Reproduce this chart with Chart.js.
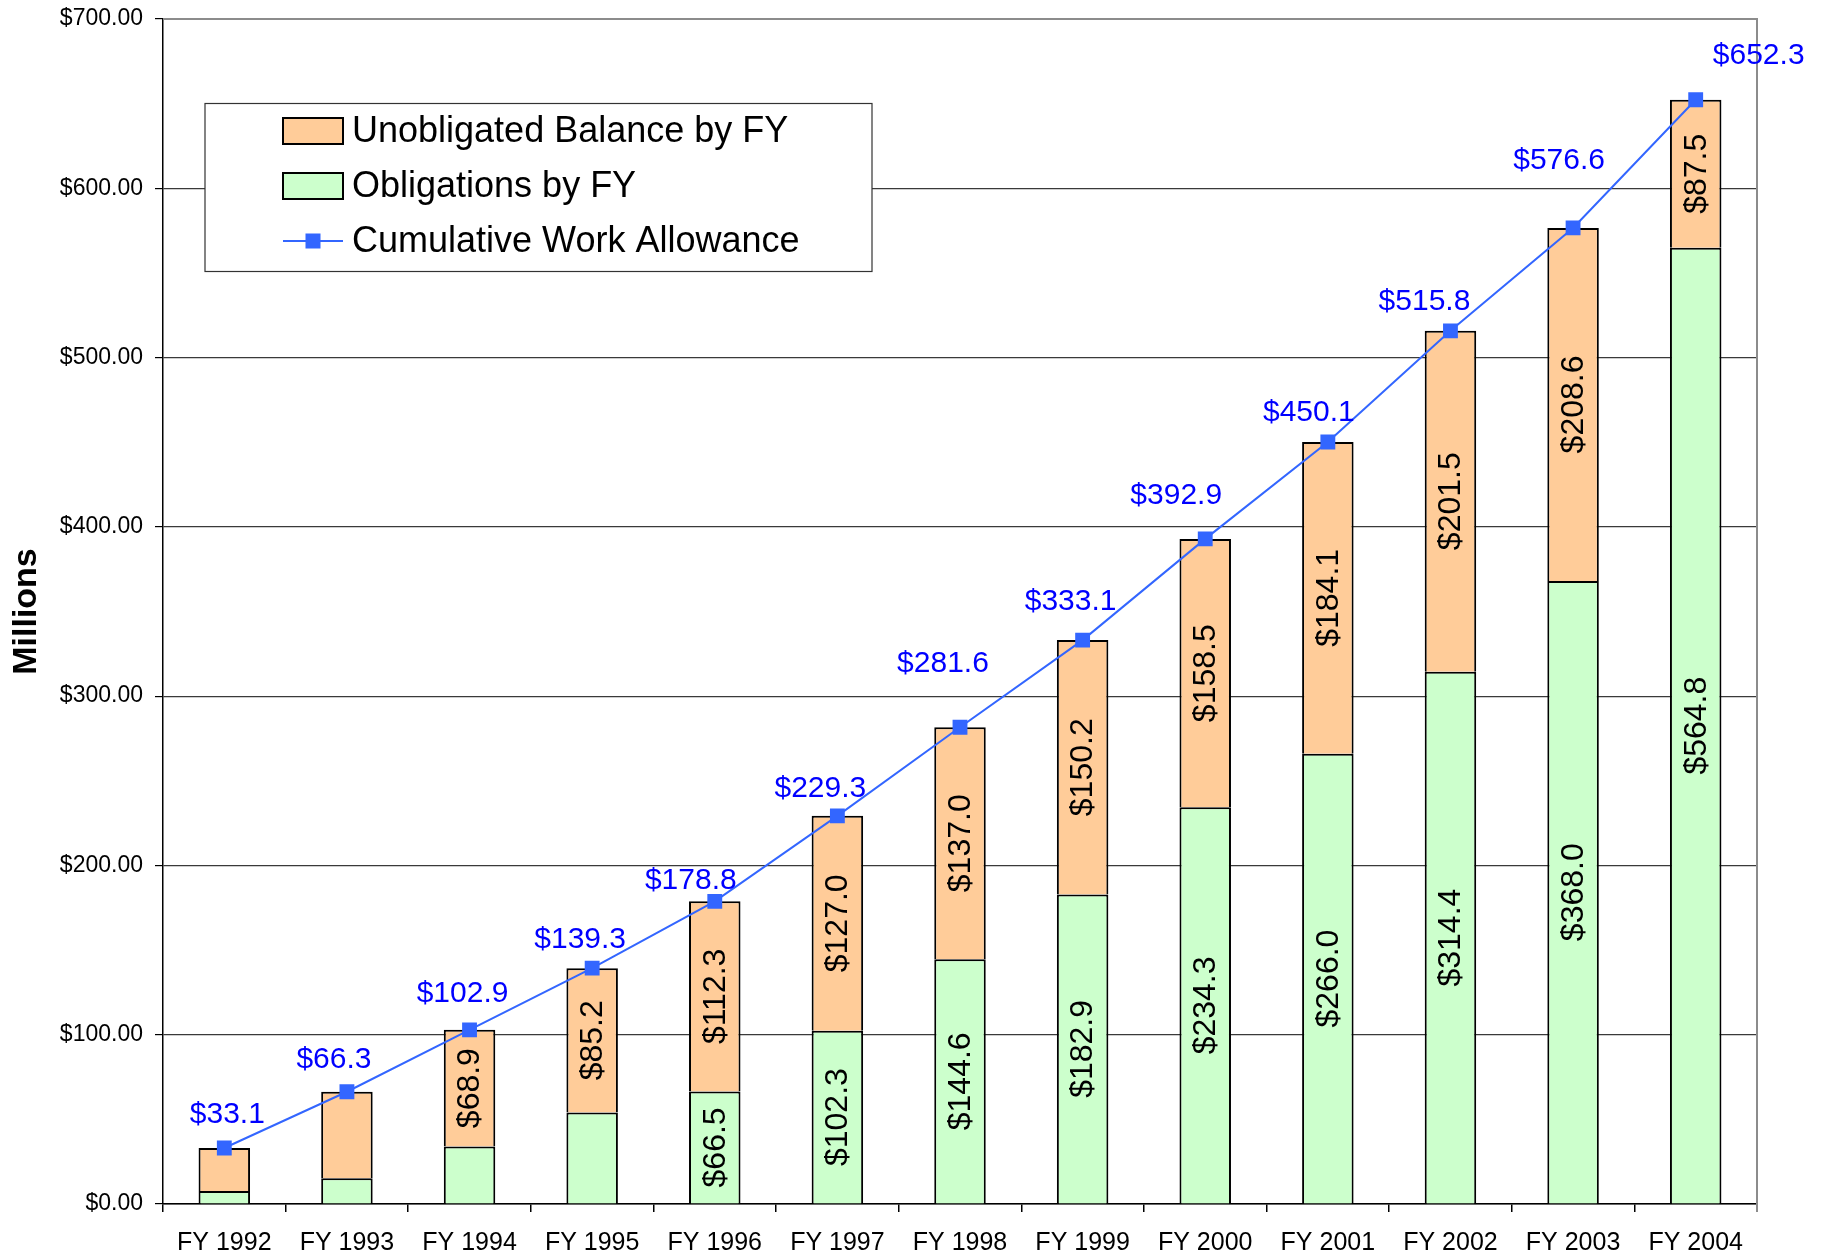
<!DOCTYPE html>
<html><head><meta charset="utf-8">
<script src="https://cdn.jsdelivr.net/npm/chart.js@4/dist/chart.umd.min.js"></script>
<style>html,body{margin:0;padding:0;background:#fff}canvas{display:block}</style>
</head><body>
<canvas id="c" width="1824" height="1256"></canvas>
<script>
const categories = ['FY 1992','FY 1993','FY 1994','FY 1995','FY 1996','FY 1997','FY 1998','FY 1999','FY 2000','FY 2001','FY 2002','FY 2003','FY 2004'];
const obligations = [7.7, 15.2, 34.0, 54.1, 66.5, 102.3, 144.6, 182.9, 234.3, 266.0, 314.4, 368.0, 564.8];
const unobligated = [25.4, 51.1, 68.9, 85.2, 112.3, 127.0, 137.0, 150.2, 158.5, 184.1, 201.5, 208.6, 87.5];
const cumulative = [33.1, 66.3, 102.9, 139.3, 178.8, 229.3, 281.6, 333.1, 392.9, 450.1, 515.8, 576.6, 652.3];
const yTickValues = [0, 100, 200, 300, 400, 500, 600, 700];
const seriesNames = ['Unobligated Balance by FY', 'Obligations by FY', 'Cumulative Work Allowance'];
const axisTitle = 'Millions';

// label nudges for the cumulative labels (pixels, relative to each point)
const cumLabelDx = [3, -13, -7, -12, -24, -17, -17, -12, -29, -19, -26, -14, 63];
const cumLabelDy = [33, 32, 36, 28, 21, 27, 64, 38, 43, 29, 29, 67, 44];

const FONT = '"Liberation Sans", Arial, Helvetica, sans-serif';
const ORANGE = '#FFCC99', GREEN = '#CCFFCC', LINE = '#3366FF';

const labelPlugin = {
  id: 'labels',
  afterDatasetsDraw(chart) {
    const ctx = chart.ctx;
    ctx.save();
    ctx.font = '32px ' + FONT;
    ctx.fillStyle = '#000';
    ctx.textAlign = 'center';
    ctx.textBaseline = 'middle';
    [0, 1].forEach(di => {
      const meta = chart.getDatasetMeta(di);
      const data = chart.data.datasets[di].data;
      meta.data.forEach((el, i) => {
        const txt = '$' + data[i].toFixed(1);
        const h = Math.abs(el.base - el.y);
        const w = ctx.measureText(txt).width;
        if (h < w + 15) return;
        ctx.save();
        ctx.translate(el.x, (el.y + el.base) / 2);
        ctx.rotate(-Math.PI / 2);
        ctx.fillText(txt, 0, 1);
        ctx.restore();
      });
    });
    ctx.font = '30px ' + FONT;
    ctx.fillStyle = '#0000FF';
    const lm = chart.getDatasetMeta(2);
    lm.data.forEach((p, i) => {
      ctx.fillText('$' + cumulative[i].toFixed(1), p.x + cumLabelDx[i], p.y - cumLabelDy[i]);
    });
    ctx.restore();
  }
};

const framePlugin = {
  id: 'frame',
  beforeDatasetsDraw(chart) {
    const {ctx, chartArea: a} = chart;
    ctx.save();
    ctx.strokeStyle = '#8c8c8c';
    ctx.lineWidth = 2;
    ctx.beginPath();
    ctx.moveTo(a.left, a.top);
    ctx.lineTo(a.right, a.top);
    ctx.lineTo(a.right, a.bottom + 8);
    ctx.stroke();
    ctx.restore();
  }
};

const legendPlugin = {
  id: 'boxLegend',
  afterDraw(chart) {
    const ctx = chart.ctx;
    ctx.save();
    const bx = 205, by = 103.5, bw = 667, bh = 168;
    ctx.fillStyle = '#fff';
    ctx.fillRect(bx, by, bw, bh);
    ctx.strokeStyle = '#333';
    ctx.lineWidth = 1.2;
    ctx.strokeRect(bx, by, bw, bh);
    const rows = [131, 186, 241];
    const sx = 283, sw = 60, sh = 26;
    ctx.lineWidth = 2;
    ctx.strokeStyle = '#000';
    ctx.fillStyle = ORANGE;
    ctx.fillRect(sx, rows[0] - sh / 2, sw, sh);
    ctx.strokeRect(sx, rows[0] - sh / 2, sw, sh);
    ctx.fillStyle = GREEN;
    ctx.fillRect(sx, rows[1] - sh / 2, sw, sh);
    ctx.strokeRect(sx, rows[1] - sh / 2, sw, sh);
    ctx.strokeStyle = LINE;
    ctx.beginPath();
    ctx.moveTo(sx, rows[2]);
    ctx.lineTo(sx + sw, rows[2]);
    ctx.stroke();
    ctx.fillStyle = LINE;
    ctx.fillRect(sx + sw / 2 - 7.5, rows[2] - 7.5, 15, 15);
    ctx.fillStyle = '#000';
    ctx.font = '36px ' + FONT;
    ctx.textAlign = 'left';
    ctx.textBaseline = 'middle';
    seriesNames.forEach((n, i) => ctx.fillText(n, 352, rows[i] + 1));
    ctx.restore();
  }
};

new Chart(document.getElementById('c'), {
  data: {
    labels: categories,
    datasets: [
      { type: 'bar', label: seriesNames[1], data: obligations, backgroundColor: GREEN, borderColor: '#000', borderWidth: 2, stack: 'bars', order: 2, barPercentage: 0.84, categoryPercentage: 0.5 },
      { type: 'bar', label: seriesNames[0], data: unobligated, backgroundColor: ORANGE, borderColor: '#000', borderWidth: 2, stack: 'bars', order: 2, barPercentage: 0.84, categoryPercentage: 0.5 },
      { type: 'line', label: seriesNames[2], data: cumulative, borderColor: LINE, backgroundColor: LINE, borderWidth: 2, tension: 0, stack: 'line', order: 1,
        pointStyle: 'rect', pointRadius: 10.5, pointBackgroundColor: LINE, pointBorderColor: LINE, pointBorderWidth: 0 }
    ]
  },
  options: {
    responsive: false,
    animation: false,
    devicePixelRatio: 1,
    layout: { padding: { top: 19, right: 67, left: 0, bottom: 0 } },
    plugins: { legend: { display: false }, tooltip: { enabled: false }, title: { display: false } },
    scales: {
      x: {
        stacked: true,
        offset: true,
        grid: { display: true, drawOnChartArea: false, offset: true, tickLength: 8, color: '#000', lineWidth: 1.5 },
        border: { display: true, color: '#000', width: 1.5 },
        ticks: { color: '#000', font: { family: FONT, size: 25 }, padding: 16, maxRotation: 0, autoSkip: false },
        afterFit(s) { s.height = 52; s.paddingLeft = 0; s.paddingRight = 0; }
      },
      y: {
        stacked: true,
        min: 0, max: 700,
        afterBuildTicks(s) { s.ticks = yTickValues.map(v => ({ value: v })); },
        grid: {
          tickLength: 8,
          color: c => (c.tick && c.tick.value === 700) ? '#8c8c8c' : '#3a3a3a',
          tickColor: '#000',
          lineWidth: 1.2
        },
        border: { display: true, color: '#000', width: 1.5 },
        ticks: { color: '#000', font: { family: FONT, size: 23 }, padding: 12, callback: v => '$' + Number(v).toFixed(2) },
        title: { display: true, text: axisTitle, color: '#000', font: { family: FONT, size: 34, weight: 'bold' }, padding: { top: 6, bottom: 0 } },
        afterFit(s) { s.width = 163; s.paddingTop = 0; s.paddingBottom = 0; }
      }
    }
  },
  plugins: [framePlugin, labelPlugin, legendPlugin]
});
</script>
</body></html>
